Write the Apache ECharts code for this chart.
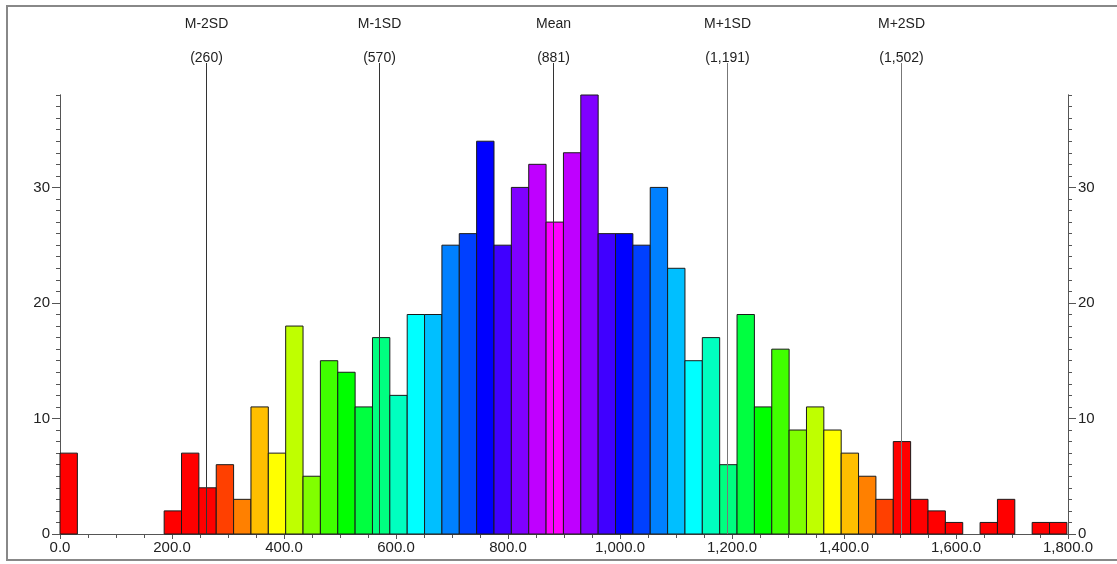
<!DOCTYPE html>
<html>
<head>
<meta charset="utf-8">
<script src="https://cdn.jsdelivr.net/npm/echarts@6/dist/echarts.min.js"></script>
<style>
  html, body { margin: 0; padding: 0; background: #fff; }
  #chart { width: 1117px; height: 564px; }
</style>
</head>
<body>
<div id="chart"></div>
<script>
// histogram bins: width 31, starting at 0
var binStart = 0
var binWidth = 31
var counts = [
    7, 0, 0, 0, 0, 0, 2, 7, 4, 6,
    3, 11, 7, 18, 5, 15, 14, 11, 17, 12,
    19, 19, 25, 26, 34, 25, 30, 32, 27, 33,
    38, 26, 26, 25, 30, 23, 15, 17, 6, 19,
    11, 16, 9, 11, 9, 7, 5, 3, 8, 3,
    2, 1, 0, 1, 3, 0, 1, 1
]

// mean / SD reference lines
var sdNames = ['M-2SD', 'M-1SD', 'Mean', 'M+1SD', 'M+2SD']
var sdValues = [260, 570, 881, 1191, 1502]
var sdLabels = ['(260)', '(570)', '(881)', '(1,191)', '(1,502)']
var sdColors = ['#333', '#333', '#333', '#777', '#777']

var xTicks = [0, 1800]
var yMax = 38

var font = "'Liberation Sans', Arial, sans-serif"

function fmtX(v) {
    var s = String(Math.round(v))
    s = s.replace(/\B(?=(\d{3})+(?!\d))/g, ',')
    return s + '.0'
}

// colour = hue by distance (in bins) from the mean bin
var meanBin = Math.floor((sdValues[2] - binStart) / binWidth)
function binColor(i) {
    var h = Math.max(0, 300 - 15 * Math.abs(i - meanBin))
    return 'hsl(' + h + ',100%,50%)'
}

var barData = []
for (var i = 0; i < counts.length; i++) {
    if (counts[i] > 0) {
        barData.push([binStart + i * binWidth, binStart + (i + 1) * binWidth, counts[i], i])
    }
}
var sdData = []
for (var k = 0; k < sdValues.length; k++) {
    sdData.push([sdValues[k], k])
}

function yAxisDef(pos, major) {
    return {
        type: 'value',
        position: pos,
        min: 0,
        max: yMax,
        interval: major ? 10 : 1,
        axisLine: { show: true, lineStyle: { color: '#555', width: 1 } },
        axisTick: { show: true, length: major ? 8 : 4, lineStyle: { color: '#555' } },
        axisLabel: {
            show: major,
            showMaxLabel: false,
            margin: 10,
            color: '#222',
            fontSize: 15,
            fontFamily: font
        },
        splitLine: { show: false }
    }
}

var myChart = echarts.init(document.getElementById('chart'))
var option = {
    backgroundColor: '#fff',
    animation: false,
    grid: { left: 60, right: 49, top: 95, bottom: 30 },
    graphic: [
        {
            type: 'rect',
            shape: { x: 7, y: 6, width: 1130, height: 554 },
            style: { fill: null, stroke: '#888', lineWidth: 2 },
            silent: true
        }
    ],
    xAxis: {
        type: 'value',
        min: xTicks[0],
        max: xTicks[1],
        interval: 200,
        axisLine: { show: true, onZero: false, lineStyle: { color: '#555', width: 1 } },
        axisTick: { show: true, length: 5, lineStyle: { color: '#555' } },
        minorTick: { show: true, splitNumber: 4, length: 4, lineStyle: { color: '#555' } },
        axisLabel: {
            margin: 6,
            color: '#222',
            fontSize: 15,
            fontFamily: font,
            formatter: fmtX
        },
        splitLine: { show: false }
    },
    yAxis: [
        yAxisDef('left', true),
        yAxisDef('left', false),
        yAxisDef('right', true),
        yAxisDef('right', false)
    ],
    series: [
        {
            type: 'custom',
            name: 'counts',
            xAxisIndex: 0,
            yAxisIndex: 0,
            data: barData,
            encode: { x: [0, 1], y: 2 },
            renderItem: function(params, api) {
                var p0 = api.coord([api.value(0), api.value(2)])
                var p1 = api.coord([api.value(1), 0])
                return {
                    type: 'rect',
                    shape: { x: p0[0], y: p0[1], width: p1[0] - p0[0], height: p1[1] - p0[1] },
                    style: { fill: binColor(api.value(3)), stroke: '#1a1a1a', lineWidth: 1 }
                }
            }
        },
        {
            type: 'custom',
            name: 'sd',
            xAxisIndex: 0,
            yAxisIndex: 0,
            z: 5,
            clip: false,
            data: sdData,
            encode: { x: 0 },
            renderItem: function(params, api) {
                var k = api.value(1)
                var b = api.coord([api.value(0), 0])
                var t = api.coord([api.value(0), yMax])
                var x = Math.round(b[0]) + 0.5
                return {
                    type: 'group',
                    children: [
                        {
                            type: 'line',
                            shape: { x1: x, y1: t[1] - 32, x2: x, y2: b[1] },
                            style: { stroke: sdColors[k], lineWidth: 1 }
                        },
                        {
                            type: 'text',
                            x: x, y: t[1] - 71,
                            style: {
                                text: sdNames[k], fill: '#222', font: '14px ' + font,
                                align: 'center', verticalAlign: 'middle'
                            }
                        },
                        {
                            type: 'text',
                            x: x, y: t[1] - 37,
                            style: {
                                text: sdLabels[k], fill: '#222', font: '14px ' + font,
                                align: 'center', verticalAlign: 'middle'
                            }
                        }
                    ]
                }
            }
        }
    ]
}
myChart.setOption(option)
</script>
</body>
</html>
